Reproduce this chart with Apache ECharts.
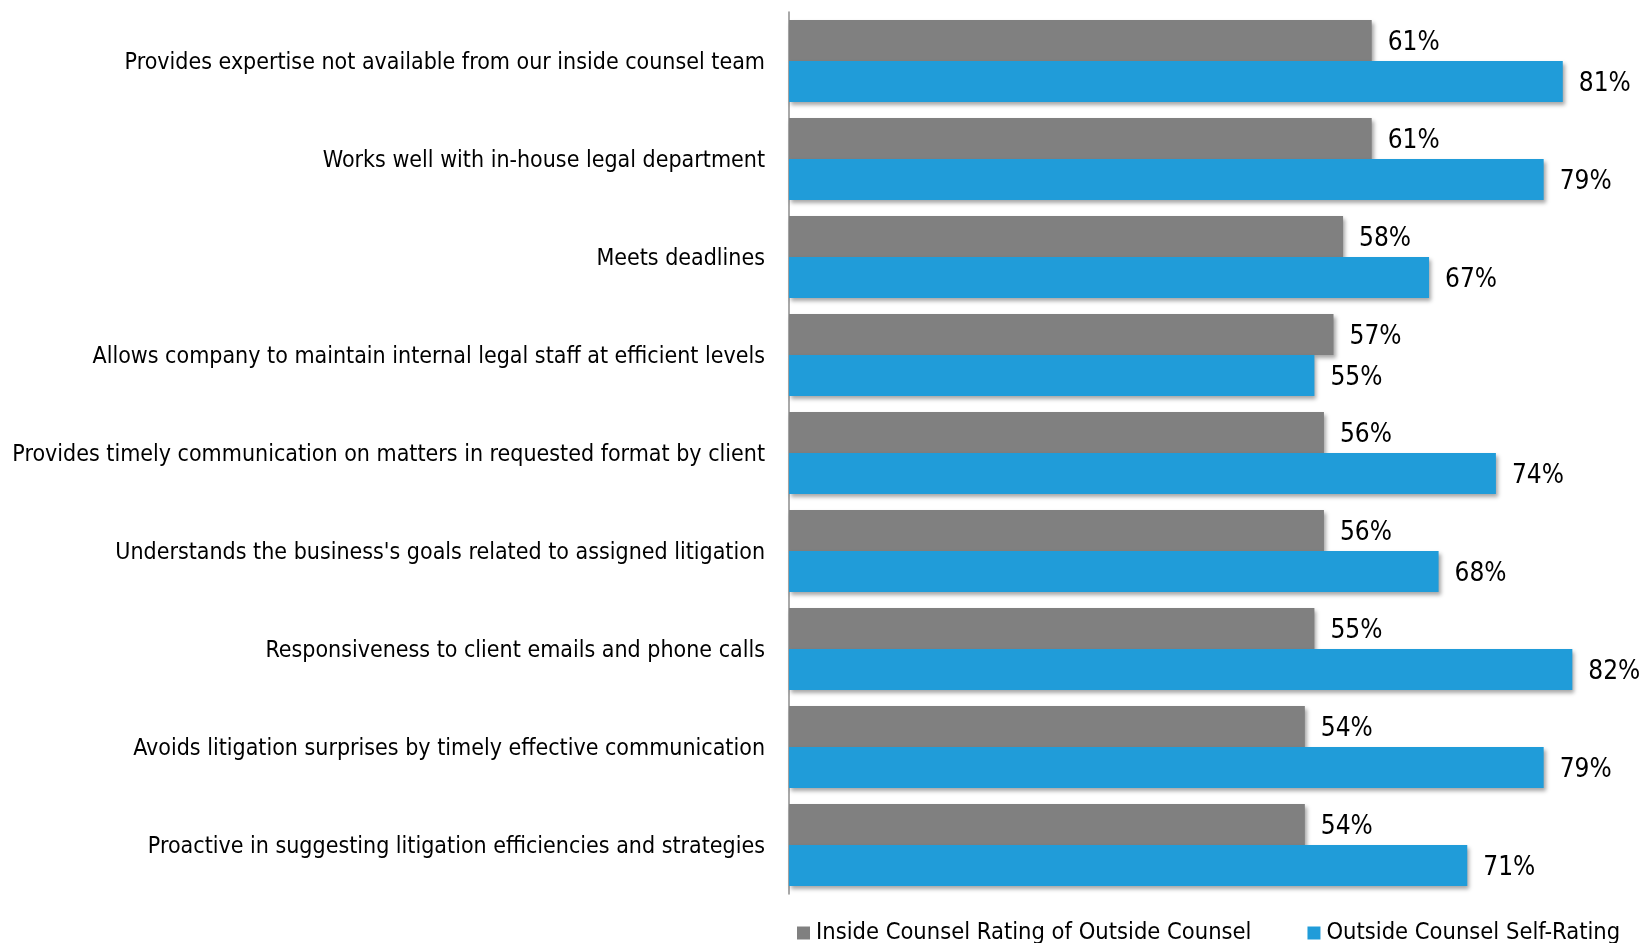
<!DOCTYPE html>
<html>
<head>
<meta charset="utf-8">
<script src="https://cdn.jsdelivr.net/npm/echarts@6/dist/echarts.min.js"></script>
<style>
  html, body { margin: 0; padding: 0; background: #fff; }
  #chart { width: 1642px; height: 943px; }
</style>
</head>
<body>
<div id="chart"></div>
<script>
// Survey attributes, top to bottom
const categories = [
  "Provides expertise not available from our inside counsel team",
  "Works well with in-house legal department",
  "Meets deadlines",
  "Allows company to maintain internal legal staff at efficient levels",
  "Provides timely communication on matters in requested format by client",
  "Understands the business's goals related to assigned litigation",
  "Responsiveness to client emails and phone calls",
  "Avoids litigation surprises by timely effective communication",
  "Proactive in suggesting litigation efficiencies and strategies"
];
const seriesNames = ["Inside Counsel Rating of Outside Counsel", "Outside Counsel Self-Rating"];
const insideRating = [61, 61, 58, 57, 56, 56, 55, 54, 54];
const selfRating = [81, 79, 67, 55, 74, 68, 82, 79, 71];

const FONT = '"Liberation Sans Narrow", "Arial Narrow", "DejaVu Sans Condensed", sans-serif';

const chart = echarts.init(document.getElementById('chart'), null, { renderer: 'canvas' });

function barSeries(name, data, color) {
  return {
    name: name,
    type: 'bar',
    data: data,
    barWidth: 41,
    barGap: '0%',
    itemStyle: {
      color: color,
      shadowColor: 'rgba(0,0,0,0.35)',
      shadowBlur: 4,
      shadowOffsetX: 2,
      shadowOffsetY: 3
    },
    label: {
      show: true,
      position: 'right',
      distance: 16,
      offset: [0, 3],
      formatter: '{c}%',
      color: '#000',
      fontFamily: FONT,
      fontSize: 26
    }
  };
}

chart.setOption({
  animation: false,
  backgroundColor: '#fff',
  textStyle: { fontFamily: FONT },
  grid: { left: 789, top: 12, height: 882, right: 41, containLabel: false, outerBoundsMode: 'none' },
  xAxis: {
    type: 'value',
    min: 0,
    max: 85,
    show: false
  },
  yAxis: {
    type: 'category',
    inverse: true,
    data: categories,
    axisLine: { show: true, lineStyle: { color: '#8c8c8c', width: 1.5 } },
    axisTick: { show: false },
    axisLabel: {
      color: '#000',
      fontFamily: FONT,
      fontSize: 23,
      margin: 24,
      formatter: '{cat|{value}}',
      rich: {
        cat: {
          color: '#000',
          fontFamily: FONT,
          fontSize: 23,
          padding: [5, 0, 0, 0]
        }
      }
    }
  },
  legend: {
    left: 792,
    top: 916,
    width: 840,
    itemWidth: 13,
    itemHeight: 13,
    itemGap: 56,
    icon: 'rect',
    textStyle: { color: '#000', fontFamily: FONT, fontSize: 23.5, padding: [0, 0, 0, 1] },
    data: seriesNames
  },
  series: [
    barSeries(seriesNames[0], insideRating, '#808080'),
    barSeries(seriesNames[1], selfRating, '#209CD9')
  ]
});
</script>
</body>
</html>
